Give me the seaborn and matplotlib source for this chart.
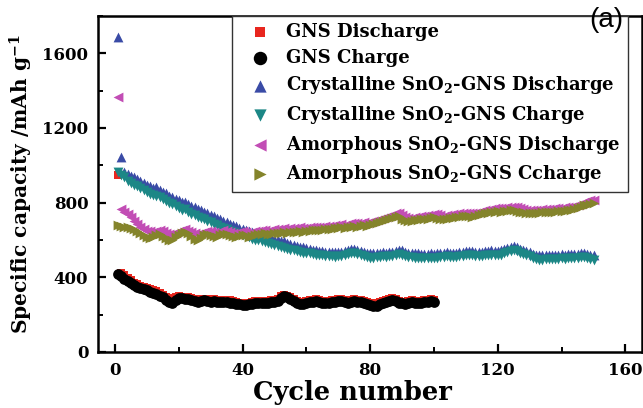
import numpy as np
import pandas as pd
import matplotlib
matplotlib.use("Agg")
import matplotlib.pyplot as plt
import seaborn as sns
from matplotlib.ticker import MultipleLocator

# ---------------- data ----------------
gns_discharge = [950, 425, 410, 398, 385, 372, 362, 355, 348, 342,
                 335, 330, 325, 315, 305, 295, 288, 285, 292, 298,
                 296, 294, 292, 288, 282, 278, 284, 286, 282, 280,
                 282, 280, 278, 280, 278, 276, 272, 268, 265, 262,
                 262, 265, 268, 272, 272, 270, 272, 275, 278, 278,
                 285, 298, 305, 302, 292, 282, 275, 268, 265, 272,
                 280, 278, 282, 278, 275, 272, 275, 278, 280, 282,
                 285, 278, 275, 280, 282, 280, 278, 272, 268, 262,
                 258, 260, 266, 272, 280, 285, 288, 285, 275, 270,
                 268, 272, 278, 275, 272, 275, 280, 278, 282, 280]

gns_charge = [418, 405, 392, 380, 368, 358, 350, 342, 335, 330,
              322, 318, 312, 300, 292, 278, 270, 265, 280, 290,
              288, 285, 284, 280, 272, 268, 275, 278, 272, 270,
              272, 270, 268, 270, 268, 265, 262, 258, 255, 252,
              252, 255, 258, 262, 262, 260, 262, 265, 268, 268,
              275, 290, 300, 295, 282, 272, 265, 258, 255, 262,
              270, 268, 272, 268, 265, 262, 265, 268, 270, 272,
              275, 268, 265, 270, 272, 270, 268, 262, 258, 250,
              245, 248, 255, 262, 270, 275, 278, 275, 265, 260,
              258, 262, 268, 265, 262, 265, 270, 268, 272, 270]

cryst_discharge = [1690, 1045, 965, 955, 945, 935, 928, 915, 905, 895,
                   888, 880, 882, 868, 858, 850, 838, 828, 818, 812,
                   802, 805, 792, 782, 776, 766, 760, 750, 744, 735,
                   726, 720, 710, 704, 695, 688, 680, 674, 665, 658,
                   655, 648, 642, 636, 630, 625, 620, 614, 609, 604,
                   600, 596, 592, 586, 580, 574, 568, 564, 560, 556,
                   552, 548, 545, 542, 540, 538, 536, 535, 534, 535,
                   538, 542, 546, 550, 552, 548, 540, 534, 530, 528,
                   528, 530, 532, 534, 532, 534, 538, 542, 548, 545,
                   538, 532, 530, 528, 528, 526, 525, 527, 528, 526,
                   528, 530, 532, 534, 532, 530, 532, 534, 537, 540,
                   542, 540, 537, 534, 537, 540, 542, 544, 542, 540,
                   544, 550, 556, 562, 566, 562, 554, 547, 542, 537,
                   527, 520, 517, 517, 518, 520, 520, 522, 522, 524,
                   522, 524, 525, 527, 527, 530, 532, 527, 522, 517]

cryst_charge = [965, 950, 935, 918, 905, 895, 888, 878, 868, 858,
                848, 843, 838, 828, 818, 808, 798, 792, 780, 770,
                762, 765, 750, 740, 735, 725, 718, 710, 700, 695,
                688, 680, 672, 665, 658, 650, 645, 640, 632, 625,
                620, 615, 608, 602, 598, 592, 588, 582, 578, 572,
                568, 562, 558, 552, 548, 545, 540, 536, 532, 530,
                528, 525, 522, 520, 518, 516, 515, 512, 510, 512,
                515, 520, 525, 528, 530, 525, 518, 512, 508, 505,
                505, 508, 510, 512, 510, 512, 515, 520, 525, 522,
                515, 510, 508, 505, 505, 503, 502, 504, 505, 503,
                505, 508, 510, 512, 510, 508, 510, 512, 515, 518,
                520, 518, 515, 512, 515, 518, 520, 522, 520, 518,
                522, 528, 535, 540, 545, 540, 532, 525, 520, 515,
                505, 498, 495, 495, 496, 498, 498, 500, 500, 502,
                500, 502, 503, 505, 505, 508, 510, 505, 500, 495]

amor_discharge = [1365, 765, 752, 738, 722, 704, 686, 670, 658, 650,
                  646, 642, 648, 652, 646, 640, 634, 630, 640, 648,
                  654, 658, 650, 642, 636, 630, 638, 645, 650, 647,
                  642, 640, 646, 652, 650, 645, 640, 637, 642, 648,
                  645, 640, 642, 647, 650, 652, 654, 650, 652, 657,
                  660, 658, 662, 660, 664, 662, 664, 668, 664, 666,
                  668, 670, 672, 670, 672, 675, 677, 675, 679, 682,
                  685, 682, 685, 689, 692, 689, 692, 695, 692, 697,
                  702, 707, 712, 717, 722, 727, 735, 742, 745, 732,
                  722, 717, 719, 722, 725, 727, 729, 732, 735, 739,
                  737, 732, 729, 732, 735, 737, 739, 742, 745, 747,
                  745, 742, 745, 749, 755, 759, 762, 765, 769, 772,
                  769, 772, 775, 777, 779, 775, 769, 765, 762, 762,
                  759, 762, 762, 765, 767, 765, 767, 769, 772, 772,
                  775, 777, 779, 782, 787, 795, 802, 807, 812, 815]

amor_charge = [680, 675, 672, 668, 665, 660, 650, 640, 628, 615,
               610, 618, 625, 630, 622, 610, 600, 598, 615, 628,
               640, 645, 635, 620, 608, 600, 612, 625, 632, 628,
               620, 618, 625, 632, 630, 625, 620, 615, 622, 628,
               625, 618, 620, 625, 630, 632, 635, 632, 630, 635,
               638, 640, 642, 640, 645, 642, 645, 648, 645, 648,
               650, 652, 655, 652, 655, 658, 660, 658, 662, 665,
               668, 665, 668, 672, 675, 672, 675, 678, 675, 680,
               685, 690, 695, 700, 705, 710, 718, 725, 728, 715,
               705, 700, 702, 705, 708, 710, 712, 715, 718, 722,
               720, 715, 712, 715, 718, 720, 722, 725, 728, 730,
               728, 725, 728, 732, 738, 742, 745, 748, 752, 755,
               752, 755, 758, 760, 762, 758, 752, 748, 745, 745,
               742, 745, 745, 748, 750, 748, 750, 752, 755, 755,
               758, 760, 762, 765, 770, 778, 785, 790, 795, 800]

labels = ["GNS Discharge",
          "GNS Charge",
          "Crystalline SnO$_2$-GNS Discharge",
          "Crystalline SnO$_2$-GNS Charge",
          "Amorphous SnO$_2$-GNS Discharge",
          "Amorphous SnO$_2$-GNS Ccharge"]
values = [gns_discharge, gns_charge, cryst_discharge,
          cryst_charge, amor_discharge, amor_charge]
colors = ["#e8261e", "#000000", "#3a4ba6", "#1c8786", "#c24db5", "#84842b"]
markers = ["s", "o", "^", "v", "<", ">"]
sizes = [34, 60, 50, 50, 50, 50]

x_ticks = [0, 40, 80, 120, 160]
y_ticks = [0, 400, 800, 1200, 1600]

# ---------------- style ----------------
sns.set_style("ticks")
plt.rcParams["font.family"] = ["DejaVu Serif"]
plt.rcParams["font.weight"] = "bold"
plt.rcParams["axes.labelweight"] = "bold"
plt.rcParams["mathtext.default"] = "regular"
plt.rcParams["text.color"] = "black"
plt.rcParams["axes.labelcolor"] = "black"
plt.rcParams["xtick.color"] = "black"
plt.rcParams["ytick.color"] = "black"

fig = plt.figure(figsize=(6.43, 4.08), dpi=100)
ax = fig.add_axes([98 / 643, 56 / 408, 544 / 643, 336 / 408])

for lab, vals, col, mk, sz in zip(labels, values, colors, markers, sizes):
    df = pd.DataFrame({"Cycle": np.arange(1, len(vals) + 1), "Capacity": vals})
    sns.scatterplot(data=df, x="Cycle", y="Capacity", ax=ax, marker=mk,
                    color=col, s=sz, linewidth=0, label=lab)

ax.set_xlim(-5.3, 165.2)
ax.set_ylim(0, 1800)
ax.set_xticks(x_ticks)
ax.set_yticks(y_ticks)
ax.xaxis.set_minor_locator(MultipleLocator(20))
ax.yaxis.set_minor_locator(MultipleLocator(200))
ax.tick_params(which="major", direction="in", length=6, width=1.6,
               labelsize=12, pad=7, color="black", labelcolor="black")
ax.tick_params(which="minor", direction="in", length=3.5, width=1.4,
               color="black")
for lab in ax.get_xticklabels() + ax.get_yticklabels():
    lab.set_fontweight("bold")
for sp in ax.spines.values():
    sp.set_linewidth(1.8)
    sp.set_color("black")

ax.set_xlabel("Cycle number", fontsize=18.5, fontweight="bold",
              color="black")
ax.xaxis.set_label_coords((352 - 98) / 544, (352 - 380) / 336)
ax.set_ylabel("Specific capacity /mAh g$^{-1}$", fontsize=14.5,
              fontweight="bold", labelpad=5, color="black")

leg = ax.legend(loc="upper right", bbox_to_anchor=(0.974, 1.0),
                borderaxespad=0, frameon=True, fancybox=False,
                edgecolor="#333333", fontsize=13, labelspacing=0.42,
                handletextpad=0.3, handlelength=2.3, borderpad=0.4,
                markerscale=1.25, framealpha=1)
leg.get_frame().set_linewidth(1.0)
for t in leg.get_texts():
    t.set_fontweight("bold")
    t.set_color("black")

fig.text(606 / 643, 1 - 20 / 408, "(a)", family="Liberation Sans",
         fontsize=20, fontweight="normal", ha="center", va="center",
         color="black")

fig.savefig("out.png", dpi=100, facecolor="white")
